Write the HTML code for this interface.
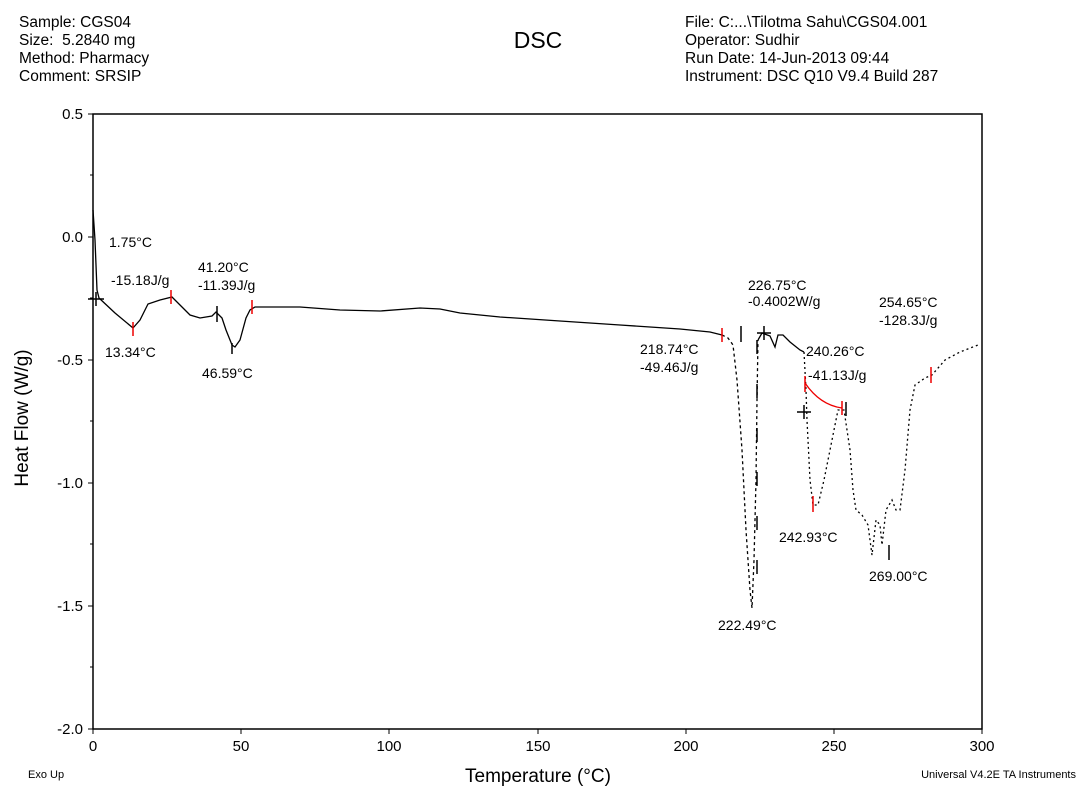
<!DOCTYPE html>
<html><head><meta charset="utf-8"><style>
body{margin:0;background:#fff;}
svg text{font-family:"Liberation Sans",sans-serif;fill:#000;}
</style></head><body>
<svg width="1083" height="793" viewBox="0 0 1083 793" xmlns="http://www.w3.org/2000/svg">
<g font-size="15.5">
<text x="19" y="27">Sample: CGS04</text>
<text x="19" y="45" xml:space="preserve">Size:  5.2840 mg</text>
<text x="19" y="63">Method: Pharmacy</text>
<text x="19" y="81">Comment: SRSIP</text>
<text x="685" y="27">File: C:...\Tilotma Sahu\CGS04.001</text>
<text x="685" y="45">Operator: Sudhir</text>
<text x="685" y="63">Run Date: 14-Jun-2013 09:44</text>
<text x="685" y="81">Instrument: DSC Q10 V9.4 Build 287</text>
</g>
<text x="538" y="48" font-size="23" text-anchor="middle">DSC</text>
<rect x="93" y="114" width="889" height="615" fill="none" stroke="#000" stroke-width="1.5"/>
<g stroke="#000" stroke-width="1">
<line x1="88" y1="114" x2="93" y2="114"/><line x1="88" y1="237" x2="93" y2="237"/><line x1="88" y1="360" x2="93" y2="360"/><line x1="88" y1="483" x2="93" y2="483"/><line x1="88" y1="606" x2="93" y2="606"/><line x1="88" y1="729" x2="93" y2="729"/>
<line x1="90" y1="175" x2="93" y2="175"/><line x1="90" y1="298" x2="93" y2="298"/><line x1="90" y1="421" x2="93" y2="421"/><line x1="90" y1="544" x2="93" y2="544"/><line x1="90" y1="667" x2="93" y2="667"/>
<line x1="93" y1="729" x2="93" y2="734"/><line x1="241" y1="729" x2="241" y2="734"/><line x1="389" y1="729" x2="389" y2="734"/><line x1="538" y1="729" x2="538" y2="734"/><line x1="686" y1="729" x2="686" y2="734"/><line x1="834" y1="729" x2="834" y2="734"/><line x1="982" y1="729" x2="982" y2="734"/>
</g>
<g font-size="15" text-anchor="end">
<text x="83" y="119">0.5</text><text x="83" y="242">0.0</text><text x="83" y="365">-0.5</text><text x="83" y="488">-1.0</text><text x="83" y="611">-1.5</text><text x="83" y="734">-2.0</text>
</g>
<g font-size="15" text-anchor="middle">
<text x="93" y="751">0</text><text x="241" y="751">50</text><text x="389" y="751">100</text><text x="538" y="751">150</text><text x="686" y="751">200</text><text x="834" y="751">250</text><text x="982" y="751">300</text>
</g>
<text x="538" y="782" font-size="19" text-anchor="middle">Temperature (°C)</text>
<text x="0" y="0" font-size="19" text-anchor="middle" transform="translate(28 418) rotate(-90)">Heat Flow (W/g)</text>
<text x="28" y="778" font-size="11">Exo Up</text>
<text x="1076" y="778" font-size="11" text-anchor="end">Universal V4.2E TA Instruments</text>
<polyline fill="none" stroke="#000" stroke-width="1.3" points="93,210 95,240 97,290 99,298 115,313 133,328 140,320 148,304 160,300 172,297 180,305 190,315 200,318 212,316 216,312 222,318 226,330 232,345 235,347 240,340 246,318 250,310 255,307 300,307 340,310 380,311 420,308 440,309 460,313 500,317 560,321 620,325 680,329 710,332 722,335"/>
<polyline fill="none" stroke="#000" stroke-width="1.3" stroke-dasharray="3,3" points="722,335 728,338 733,345 737,380 742,450 746,530 750,590 752,608 754,560 756,480 757,400 758,340"/>
<polyline fill="none" stroke="#000" stroke-width="1.3" points="758,340 762,333 770,336 775,347 778,335 783,335 790,342 800,350 804,352"/>
<polyline fill="none" stroke="#000" stroke-width="1.3" stroke-dasharray="2,3" points="804,352 806,390 807,420 810,480 813,505 818,505 824,480 830,450 838,410 844,410 850,450 853,490 856,510 862,515 868,525 872,555 876,520 880,525 882,545 886,510 892,500 896,510 900,510 905,470 910,410 915,385 925,378 932,375 945,360 960,352 978,345"/>
<g stroke="#000" stroke-width="1.5">
<line x1="757" y1="340" x2="757" y2="600" stroke-dasharray="14,30"/>
<line x1="741" y1="326" x2="741" y2="342"/>
<line x1="88" y1="299" x2="104" y2="299"/><line x1="96" y1="292" x2="96" y2="306"/>
<line x1="757" y1="333" x2="771" y2="333"/><line x1="764" y1="326" x2="764" y2="340"/>
<line x1="797" y1="412" x2="811" y2="412"/><line x1="804" y1="405" x2="804" y2="419"/>
<line x1="217" y1="306" x2="217" y2="322"/><line x1="232" y1="343" x2="232" y2="354"/>
<line x1="846" y1="402" x2="846" y2="416"/><line x1="889" y1="545" x2="889" y2="560"/>
</g>
<path d="M805,383 Q820,405 842,408" fill="none" stroke="#e00" stroke-width="1.3"/>
<g stroke="#e00" stroke-width="1.5">
<line x1="133" y1="322" x2="133" y2="336"/><line x1="171" y1="290" x2="171" y2="304"/><line x1="252" y1="300" x2="252" y2="314"/>
<line x1="722" y1="328" x2="722" y2="342"/><line x1="805" y1="376" x2="805" y2="392"/><line x1="842" y1="401" x2="842" y2="415"/>
<line x1="813" y1="496" x2="813" y2="512"/><line x1="931" y1="367" x2="931" y2="383"/>
</g>
<g font-size="14">
<text x="109" y="247">1.75°C</text>
<text x="111" y="285">-15.18J/g</text>
<text x="105" y="357">13.34°C</text>
<text x="198" y="272">41.20°C</text>
<text x="198" y="290">-11.39J/g</text>
<text x="202" y="378">46.59°C</text>
<text x="640" y="354">218.74°C</text>
<text x="640" y="372">-49.46J/g</text>
<text x="748" y="290">226.75°C</text>
<text x="748" y="306">-0.4002W/g</text>
<text x="879" y="307">254.65°C</text>
<text x="879" y="325">-128.3J/g</text>
<text x="806" y="356">240.26°C</text>
<text x="808" y="380">-41.13J/g</text>
<text x="779" y="542">242.93°C</text>
<text x="869" y="581">269.00°C</text>
<text x="718" y="630">222.49°C</text>
</g>
</svg>
</body></html>
